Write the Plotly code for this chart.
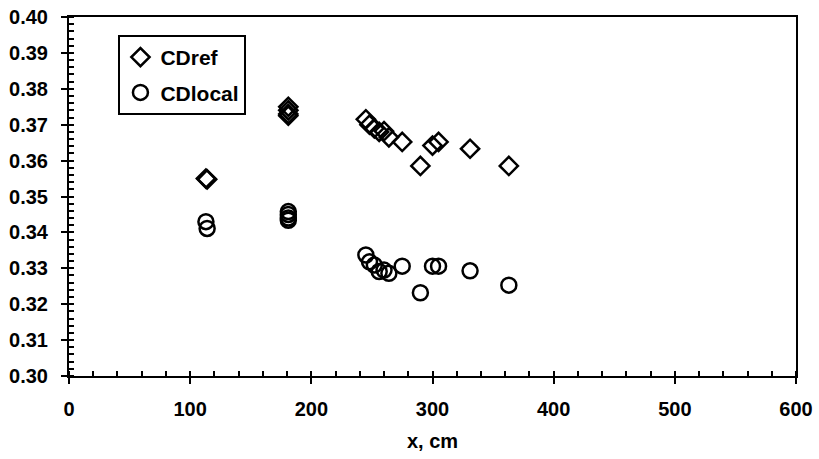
import plotly.graph_objects as go

x_cm = [113, 114, 181, 181, 181, 181, 245, 248, 252, 256, 260, 264, 275, 290, 300, 305, 331, 363]
cd_ref = [0.355, 0.3548, 0.375, 0.374, 0.373, 0.3725, 0.3715, 0.370, 0.369, 0.368, 0.3682, 0.3665,
          0.3652, 0.3585, 0.3642, 0.3652, 0.3633, 0.3585]
cd_local = [0.3430, 0.3411, 0.3458, 0.3450, 0.3440, 0.3434, 0.3337, 0.3318, 0.3309, 0.3291, 0.3295,
            0.3286, 0.3306, 0.3232, 0.3306, 0.3306, 0.3293, 0.3253]

font = "Liberation Sans"
tick_font = dict(family=font, size=20, color="black", weight=700)

fig = go.Figure()
fig.add_trace(go.Scatter(
    x=x_cm, y=cd_ref, mode="markers", name="CDref", legendgroup="a",
    marker=dict(symbol="diamond-open", size=14, color="black", line=dict(width=2.5, color="black"))
))
fig.add_trace(go.Scatter(
    x=x_cm, y=cd_local, mode="markers", name="CDlocal", legendgroup="b",
    marker=dict(symbol="circle-open", size=15, color="black", line=dict(width=2.5, color="black"))
))

fig.update_xaxes(
    range=[0, 600], dtick=100, tick0=0,
    showgrid=False, zeroline=False, showline=True, linecolor="black", linewidth=2,
    mirror=True, ticks="outside", ticklen=6, tickwidth=2, tickcolor="black",
    tickfont=tick_font, ticklabeloverflow="allow", automargin=False, ticklabelstandoff=8,
    minor=dict(dtick=20, ticks="inside", ticklen=5, tickwidth=1.5, tickcolor="black"),
    title=dict(text="x, cm", font=dict(family=font, size=20, color="black", weight=700), standoff=15),
)
fig.update_yaxes(
    range=[0.30, 0.40], dtick=0.01, tick0=0.30, tickformat=".2f",
    showgrid=False, zeroline=False, showline=True, linecolor="black", linewidth=2,
    mirror=True, ticks="outside", ticklen=6, tickwidth=2, tickcolor="black",
    tickfont=tick_font, ticklabeloverflow="allow", automargin=False, ticklabelstandoff=9,
    minor=dict(dtick=0.002, ticks="inside", ticklen=5, tickwidth=1.5, tickcolor="black"),
)

fig.update_layout(
    width=819, height=459,
    margin=dict(l=69, r=23, t=17, b=83),
    paper_bgcolor="white", plot_bgcolor="white",
    font=dict(family=font, color="black", size=20, weight=700),
    showlegend=True,
    legend=dict(
        x=0.068, y=0.95, xanchor="left", yanchor="top",
        bordercolor="black", borderwidth=2, bgcolor="white",
        font=dict(family=font, size=21, color="black", weight=700),
        itemwidth=30, traceorder="grouped", tracegroupgap=5,
    ),
)

# drop the page's default body margin so the 819x459 figure fills the window
fig.write_html("out.html", config={"displayModeBar": False},
               post_script="document.body.style.margin='0';")
